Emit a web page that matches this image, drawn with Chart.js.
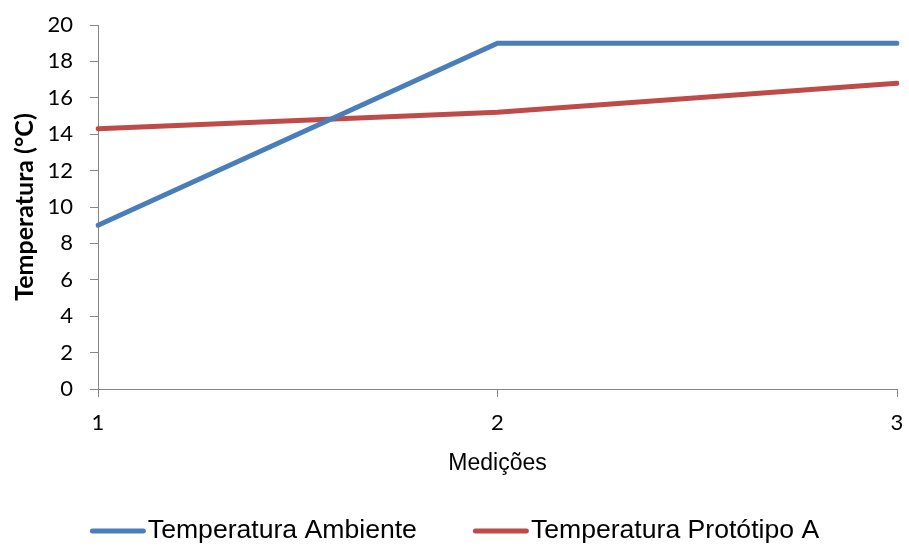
<!DOCTYPE html>
<html>
<head>
<meta charset="utf-8">
<script src="https://cdn.jsdelivr.net/npm/chart.js@4/dist/chart.umd.min.js"></script>
<style>
  html, body { margin: 0; padding: 0; background: #ffffff; }
  #wrap { width: 909px; height: 551px; }
</style>
</head>
<body>
<div id="wrap"><canvas id="chart" width="909" height="551"></canvas></div>
<script>
// Measurement labels and the two temperature series (°C)
const medicoes = ['1', '2', '3'];
const temperaturaAmbiente = [9, 19, 19];
const temperaturaPrototipoA = [14.3, 15.2, 16.8];
const seriesNames = ['Temperatura Ambiente', 'Temperatura Protótipo A'];
const seriesColors = ['#4A7EBB', '#BE4B48'];

const axisGray = '#868686';
const tickFont = { family: 'Lato', size: 22 };

// Legend drawn underneath the plot: a short line swatch followed by the series name
const lineLegend = {
  id: 'lineLegend',
  afterDraw(chart) {
    const ctx = chart.ctx;
    const font = '26.6px "Liberation Sans", Arial, sans-serif';
    const swatch = 56, textGap = 2, itemGap = 56;
    const y = 531;
    ctx.save();
    ctx.font = font;
    const items = chart.data.datasets.map(ds => ({
      label: ds.label, color: ds.borderColor, w: ctx.measureText(ds.label).width
    }));
    const total = items.reduce((s, it) => s + swatch + textGap + it.w, 0) + itemGap * (items.length - 1);
    let x = (chart.width - total) / 2;
    items.forEach(it => {
      ctx.strokeStyle = it.color;
      ctx.lineWidth = 5;
      ctx.lineCap = 'round';
      ctx.beginPath();
      ctx.moveTo(x + 2.5, y);
      ctx.lineTo(x + swatch - 2.5, y);
      ctx.stroke();
      x += swatch + textGap;
      ctx.fillStyle = '#000000';
      ctx.textBaseline = 'middle';
      ctx.textAlign = 'left';
      ctx.fillText(it.label, x, y);
      x += it.w + itemGap;
    });
    ctx.restore();
  }
};

new Chart(document.getElementById('chart'), {
  type: 'line',
  data: {
    labels: medicoes,
    datasets: [
      {
        label: seriesNames[0],
        data: temperaturaAmbiente,
        borderColor: seriesColors[0],
        backgroundColor: seriesColors[0],
        borderWidth: 5,
        borderCapStyle: 'round',
        pointRadius: 0,
        tension: 0
      },
      {
        label: seriesNames[1],
        data: temperaturaPrototipoA,
        borderColor: seriesColors[1],
        backgroundColor: seriesColors[1],
        borderWidth: 5,
        borderCapStyle: 'round',
        pointRadius: 0,
        tension: 0
      }
    ]
  },
  options: {
    responsive: false,
    animation: false,
    events: [],
    layout: { padding: { left: 0, right: 12, top: 25, bottom: 62 } },
    plugins: {
      legend: { display: false },
      tooltip: { enabled: false }
    },
    scales: {
      x: {
        type: 'category',
        offset: false,
        border: { color: axisGray, width: 1 },
        grid: { drawOnChartArea: false, drawTicks: true, tickLength: 8, color: axisGray },
        ticks: { color: '#000000', font: tickFont, padding: 13, maxRotation: 0 },
        title: {
          display: true,
          text: 'Medições',
          color: '#000000',
          font: { family: 'Liberation Sans', size: 23 },
          padding: { top: 0, bottom: 12 }
        },
        afterFit(scale) {
          scale.height = 100;
          scale.paddingLeft = 0;
          scale.paddingRight = 0;
        }
      },
      y: {
        min: 0,
        max: 20,
        border: { color: axisGray, width: 1 },
        grid: { drawOnChartArea: false, drawTicks: true, tickLength: 8, color: axisGray },
        ticks: { stepSize: 2, color: '#000000', font: tickFont, padding: 17 },
        title: {
          display: true,
          text: 'Temperatura (°C)',
          color: '#000000',
          font: { family: 'Lato', size: 25, weight: 'bold' },
          padding: { top: 10, bottom: 0 }
        },
        afterFit(scale) {
          scale.width = 98;
          scale.paddingTop = 0;
          scale.paddingBottom = 0;
        }
      }
    }
  },
  plugins: [lineLegend]
});
</script>
</body>
</html>
